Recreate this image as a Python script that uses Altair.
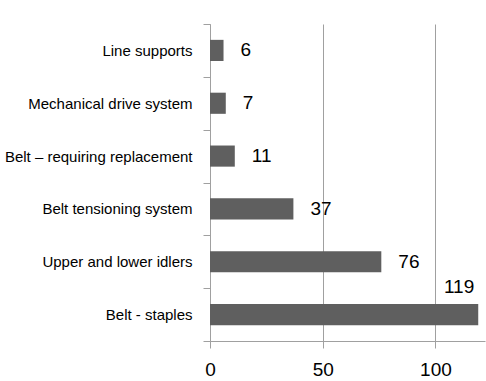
import altair as alt
import pandas as pd

categories = [
    "Line supports",
    "Mechanical drive system",
    "Belt – requiring replacement",
    "Belt tensioning system",
    "Upper and lower idlers",
    "Belt - staples",
]
values = [6, 7, 11, 37, 76, 119]
x_ticks = [0, 50, 100]

df = pd.DataFrame({"category": categories, "value": values})

FONT = "Liberation Sans, Arial, sans-serif"
GRAY = "#a0a0a0"

y_enc = alt.Y(
    "category:N",
    sort=categories,
    title=None,
    scale=alt.Scale(paddingInner=0, paddingOuter=0),
    axis=alt.Axis(
        tickBand="extent",
        tickSize=7,
        tickColor=GRAY,
        domainColor=GRAY,
        labelFont=FONT,
        labelFontSize=15,
        labelColor="black",
        labelPadding=11,
        labelLimit=400,
        grid=False,
    ),
)
x_enc = alt.X(
    "value:Q",
    title=None,
    scale=alt.Scale(domain=[0, 122], nice=False),
    axis=alt.Axis(
        values=x_ticks,
        grid=True,
        gridColor=GRAY,
        tickSize=7,
        tickColor=GRAY,
        domainColor=GRAY,
        labelFont=FONT,
        labelFontSize=19,
        labelColor="black",
        labelPadding=12,
        labelFlush=False,
    ),
)

bars = alt.Chart(df).mark_bar(
    color="#5f5f5f", height=alt.RelativeBandSize(0.4)
).encode(x=x_enc, y=y_enc)

labels = (
    alt.Chart(df)
    .transform_filter("datum.value < 100")
    .mark_text(align="left", baseline="middle", dx=17, font=FONT, fontSize=19, color="black")
    .encode(x="value:Q", y=alt.Y("category:N", sort=categories), text="value:Q")
)

top_label = (
    alt.Chart(df)
    .transform_filter("datum.value >= 100")
    .mark_text(align="right", baseline="middle", dx=-4, dy=-28, font=FONT, fontSize=19, color="black")
    .encode(x="value:Q", y=alt.Y("category:N", sort=categories), text="value:Q")
)

chart = (
    alt.layer(bars, labels, top_label)
    .properties(
        width=275,
        height=317,
        autosize=alt.AutoSizeParams(type="none"),
        padding={"left": 210, "top": 24, "right": 1, "bottom": 40},
        background="white",
    )
    .configure_view(stroke=None)
)

chart.save("out.html", embed_options={"renderer": "svg", "actions": False})
